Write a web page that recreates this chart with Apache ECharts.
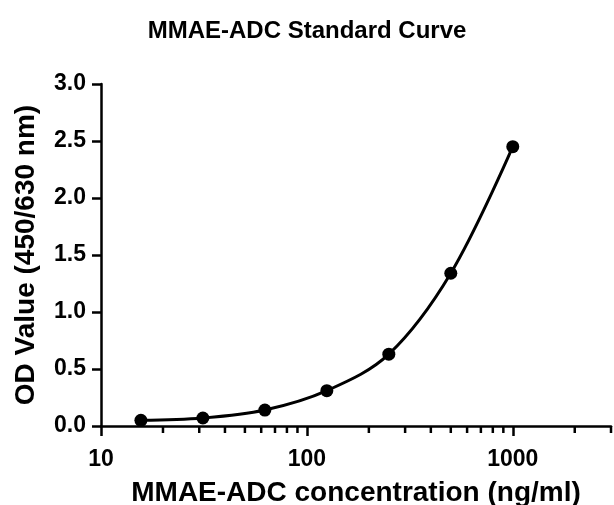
<!DOCTYPE html>
<html>
<head>
<meta charset="utf-8">
<script src="https://cdn.jsdelivr.net/npm/echarts@6/dist/echarts.min.js"></script>
<style>
html,body{margin:0;padding:0;background:#fff;}
#chart{width:614px;height:505px;}
</style>
</head>
<body>
<div id="chart"></div>
<script>
// Data
var concentrations = [15.625, 31.25, 62.5, 125, 250, 500, 1000];
var odValues = [0.05, 0.07, 0.14, 0.31, 0.63, 1.34, 2.45];
var xMajorTicks = [10, 100, 1000];
var xMinorTicks = [20, 30, 40, 50, 60, 70, 80, 90, 200, 300, 400, 500, 600, 700, 800, 900, 2000, 3000];
var yTicks = [0, 0.5, 1.0, 1.5, 2.0, 2.5, 3.0];

var FONT = '"Liberation Sans", Arial, sans-serif';
var points = concentrations.map(function (c, i) { return [c, odValues[i]]; });

var chart = echarts.init(document.getElementById('chart'), null, {renderer: 'canvas'});
chart.setOption({
  animation: false,
  backgroundColor: '#fff',
  title: {
    text: 'MMAE-ADC Standard Curve',
    left: 'center',
    top: 14,
    textStyle: {fontFamily: FONT, fontWeight: 'bold', fontSize: 24, color: '#000'}
  },
  grid: {left: 101, right: 3, top: 84, bottom: 79, containLabel: false, outerBoundsMode: 'none'},
  xAxis: {
    type: 'log',
    logBase: 10,
    min: 10,
    max: 3000,
    name: 'MMAE-ADC concentration (ng/ml)',
    nameLocation: 'middle',
    nameGap: 53,
    nameTextStyle: {fontFamily: FONT, fontWeight: 'bold', fontSize: 28, color: '#000'},
    axisLine: {show: true, lineStyle: {color: '#000', width: 2.5}},
    axisTick: {show: true, length: 10, lineStyle: {color: '#000', width: 2.5}, customValues: xMajorTicks},
    axisLabel: {
      customValues: xMajorTicks,
      fontFamily: FONT, fontWeight: 'bold', fontSize: 23, color: '#000', margin: 22,
      formatter: function (v) { return String(Math.round(v)); }
    },
    minorTick: {show: false},
    splitLine: {show: false}
  },
  yAxis: {
    type: 'value',
    min: 0,
    max: 3,
    interval: 0.5,
    name: 'OD Value (450/630 nm)',
    nameLocation: 'middle',
    nameGap: 61,
    nameTextStyle: {fontFamily: FONT, fontWeight: 'bold', fontSize: 28, color: '#000'},
    axisLine: {show: true, lineStyle: {color: '#000', width: 2.5}},
    axisTick: {show: true, length: 9, lineStyle: {color: '#000', width: 2.5}},
    axisLabel: {
      fontFamily: FONT, fontWeight: 'bold', fontSize: 23, color: '#000', margin: 15,
      formatter: function (v) { return v.toFixed(1); }
    },
    splitLine: {show: false}
  },
  series: [
    {
      type: 'line',
      data: points,
      smooth: 0.35,
      symbol: 'circle',
      symbolSize: 13,
      itemStyle: {color: '#000'},
      lineStyle: {color: '#000', width: 3},
      z: 3
    },
    {
      type: 'custom',
      data: xMinorTicks.map(function (v) { return [v, 0]; }),
      clip: false,
      silent: true,
      renderItem: function (params, api) {
        var p = api.coord([api.value(0), 0]);
        return {
          type: 'line',
          shape: {x1: p[0], y1: p[1], x2: p[0], y2: p[1] + 7},
          style: {stroke: '#000', lineWidth: 2.5}
        };
      },
      z: 1
    }
  ]
});
</script>
</body>
</html>
